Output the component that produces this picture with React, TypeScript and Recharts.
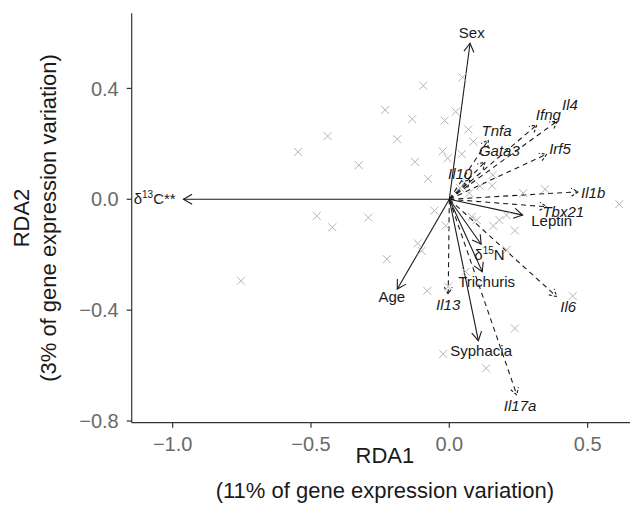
import React from 'react';
import { ScatterChart, Scatter, XAxis, YAxis, ReferenceLine, Label } from 'recharts';

const FONT = '"Liberation Sans", Arial, Helvetica, sans-serif';

// Sample scores (site points, drawn as grey crosses)
const sampleX = [
  -0.094, 0.048, -0.232, -0.134, 0.023, -0.017, -0.44, -0.188, -0.547, -0.327,
  -0.124, -0.024, -0.006, -0.077, 0.069, 0.087, 0.045, 0.157, 0.155, 0.111,
  0.267, 0.346, 0.072, 0.039, -0.479, -0.423, -0.293, -0.054, -0.013, -0.114,
  -0.1, -0.226, -0.08, -0.004, 0.614, 0.081, 0.099, 0.159, 0.181, 0.207,
  0.237, 0.207, 0.059, 0.446, 0.237, -0.022, 0.133, -0.753,
];
const sampleY = [
  0.41, 0.44, 0.322, 0.289, 0.316, 0.284, 0.228, 0.217, 0.171, 0.123,
  0.135, 0.173, 0.148, 0.074, 0.252, 0.208, 0.163, 0.088, 0.049, 0.048,
  0.022, 0.036, 0.022, 0.04, -0.06, -0.101, -0.066, -0.041, -0.095, -0.159,
  -0.186, -0.216, -0.33, -0.315, -0.018, -0.063, -0.075, -0.096, -0.075, -0.057,
  -0.113, -0.183, -0.261, -0.349, -0.466, -0.558, -0.61, -0.294,
];

// Explanatory variables (solid arrows)
const varNames = ['Sex', 'δ13C**', 'Age', 'Leptin', 'δ15N', 'Trichuris', 'Syphacia'];
const varTipX = [0.075, -0.961, -0.188, 0.265, 0.115, 0.119, 0.105];
const varTipY = [0.563, 0.0, -0.324, -0.057, -0.162, -0.261, -0.51];
const varLabelX = [0.081, -1.065, -0.208, 0.37, 0.145, 0.135, 0.115];
const varLabelY = [0.601, 0.0, -0.353, -0.078, -0.2, -0.297, -0.547];

// Genes (dashed arrows)
const geneNames = ['Il4', 'Ifng', 'Tnfa', 'Gata3', 'Irf5', 'Il10', 'Il1b', 'Tbx21', 'Il6', 'Il13', 'Il17a'];
const geneTipX = [0.39, 0.316, 0.141, 0.129, 0.352, 0.075, 0.466, 0.352, 0.388, -0.004, 0.244];
const geneTipY = [0.282, 0.268, 0.214, 0.135, 0.163, 0.07, 0.027, -0.027, -0.351, -0.342, -0.706];
const geneLabelX = [0.436, 0.358, 0.171, 0.181, 0.4, 0.039, 0.52, 0.412, 0.43, -0.004, 0.256];
const geneLabelY = [0.341, 0.304, 0.247, 0.174, 0.18, 0.091, 0.022, -0.045, -0.387, -0.381, -0.745];

const xTicks = [-1.0, -0.5, 0.0, 0.5];
const yTicks = [-0.8, -0.4, 0.0, 0.4];
const xDomain = [-1.148, 0.682];
const yDomain = [-0.806, 0.671];

const samples = sampleX.map((x, i) => ({ x, y: sampleY[i] }));
const labelRows = [
  ...varNames.map((name, i) => ({ x: varLabelX[i], y: varLabelY[i], name, italic: false })),
  ...geneNames.map((name, i) => ({ x: geneLabelX[i], y: geneLabelY[i], name, italic: true })),
];

const fmt = (v: number) => (v < 0 ? '\u2212' : '') + Math.abs(v).toFixed(1);

const Cross = (p: any) => {
  const { cx, cy } = p;
  if (cx == null || cy == null) return <g />;
  const r = 4;
  return (
    <path
      d={`M${cx - r},${cy - r}L${cx + r},${cy + r}M${cx - r},${cy + r}L${cx + r},${cy - r}`}
      stroke="#b5b5b5"
      strokeWidth={1}
      fill="none"
    />
  );
};

const makeArrow = (dashed: boolean, head: number) => (p: any) => {
  const { x1, y1, x2, y2 } = p;
  const a = Math.atan2(y2 - y1, x2 - x1);
  const s = Math.PI / 6;
  const hx1 = x2 - head * Math.cos(a - s);
  const hy1 = y2 - head * Math.sin(a - s);
  const hx2 = x2 - head * Math.cos(a + s);
  const hy2 = y2 - head * Math.sin(a + s);
  return (
    <g>
      <line x1={x1} y1={y1} x2={x2} y2={y2} stroke="#1a1a1a" strokeWidth={1.1} strokeDasharray={dashed ? '5 4' : undefined} />
      <polyline
        points={`${hx1},${hy1} ${x2},${y2} ${hx2},${hy2}`}
        fill="none"
        stroke="#1a1a1a"
        strokeWidth={1.1}
        strokeDasharray={dashed ? '3 2' : undefined}
      />
    </g>
  );
};
const solidArrow = makeArrow(false, 10);
const dashedArrow = makeArrow(true, 8);

const TextLabel = (p: any) => {
  const { cx, cy, payload } = p;
  if (cx == null || cy == null || !payload) return <g />;
  const m = /^δ(\d+)(.*)$/.exec(payload.name);
  const common = {
    x: cx,
    y: cy + 5,
    textAnchor: 'middle' as const,
    fontSize: 15,
    fontFamily: FONT,
    fill: '#1a1a1a',
    fontStyle: payload.italic ? 'italic' : 'normal',
  };
  if (m) {
    return (
      <text {...common}>
        δ
        <tspan fontSize={10} dy={-6}>{m[1]}</tspan>
        <tspan dy={6}>{m[2]}</tspan>
      </text>
    );
  }
  return <text {...common}>{payload.name}</text>;
};

const XTitle = (props: any) => {
  const vb = props.viewBox || { x: 0, y: 0, width: 0 };
  const cx = vb.x + vb.width / 2;
  return (
    <g>
      <text x={cx} y={vb.y + 33} textAnchor="middle" dominantBaseline="central" fontSize={22} fontFamily={FONT} fill="#1a1a1a">
        RDA1
      </text>
      <text x={cx} y={vb.y + 68} textAnchor="middle" dominantBaseline="central" fontSize={22} fontFamily={FONT} fill="#1a1a1a">
        (11% of gene expression variation)
      </text>
    </g>
  );
};

const YTitle = (props: any) => {
  const vb = props.viewBox || { x: 0, y: 0, height: 0 };
  const cy = vb.y + vb.height / 2;
  const x1 = 13;
  const x2 = 40;
  return (
    <g>
      <text x={x1} y={cy} transform={`rotate(-90, ${x1}, ${cy})`} textAnchor="middle" dominantBaseline="central" fontSize={22} fontFamily={FONT} fill="#1a1a1a">
        RDA2
      </text>
      <text x={x2} y={cy} transform={`rotate(-90, ${x2}, ${cy})`} textAnchor="middle" dominantBaseline="central" fontSize={22} fontFamily={FONT} fill="#1a1a1a">
        (3% of gene expression variation)
      </text>
    </g>
  );
};

export default function App() {
  return (
    <div style={{ width: 630, height: 515 }}>
      <ScatterChart width={630} height={515} margin={{ top: 5.3, right: 0, bottom: 0, left: 0 }}>
        <XAxis
          type="number"
          dataKey="x"
          domain={xDomain}
          ticks={xTicks}
          allowDataOverflow
          height={100.3}
          tickSize={5}
          tickMargin={9}
          tickFormatter={fmt}
          axisLine={{ stroke: '#333333', strokeWidth: 1.2 }}
          tickLine={{ stroke: '#333333', strokeWidth: 1.2 }}
          tick={{ fill: '#6a6a6a', fontSize: 20, fontFamily: FONT }}
        >
          <Label content={XTitle} />
        </XAxis>
        <YAxis
          type="number"
          dataKey="y"
          domain={yDomain}
          ticks={yTicks}
          allowDataOverflow
          width={123.7}
          tickSize={5}
          tickMargin={8}
          tickFormatter={fmt}
          axisLine={{ stroke: '#333333', strokeWidth: 1.2 }}
          tickLine={{ stroke: '#333333', strokeWidth: 1.2 }}
          tick={{ fill: '#6a6a6a', fontSize: 20, fontFamily: FONT }}
        >
          <Label content={YTitle} />
        </YAxis>
        <Scatter data={samples} shape={Cross} isAnimationActive={false} />
        {geneNames.map((n, i) => (
          <ReferenceLine
            key={'g' + n}
            segment={[{ x: 0, y: 0 }, { x: geneTipX[i], y: geneTipY[i] }]}
            shape={dashedArrow}
            ifOverflow="visible"
          />
        ))}
        {varNames.map((n, i) => (
          <ReferenceLine
            key={'v' + n}
            segment={[{ x: 0, y: 0 }, { x: varTipX[i], y: varTipY[i] }]}
            shape={solidArrow}
            ifOverflow="visible"
          />
        ))}
        <Scatter data={labelRows} shape={TextLabel} isAnimationActive={false} />
      </ScatterChart>
    </div>
  );
}
